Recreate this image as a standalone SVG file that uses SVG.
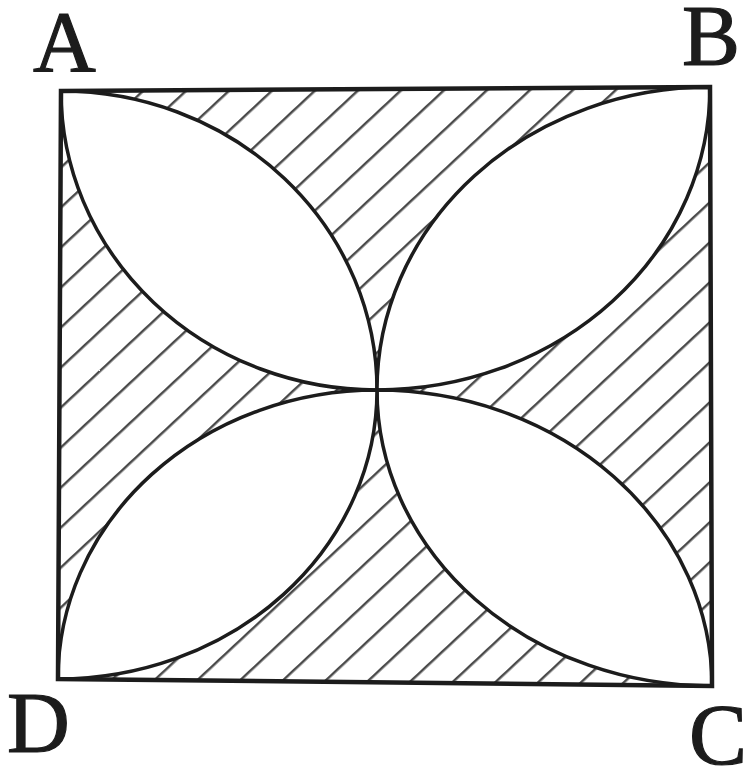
<svg xmlns="http://www.w3.org/2000/svg" width="748" height="767" viewBox="0 0 748 767">
<style>
.lbl{font-family:"Liberation Serif","Times New Roman",serif;font-size:87px;fill:#1c1c1c;stroke:#1c1c1c;stroke-width:1.2;}
.petal{fill:#fff;stroke:#1c1c1c;stroke-width:3.5;stroke-linejoin:round;}
.edge{fill:none;stroke:#1c1c1c;stroke-width:4.5;stroke-linejoin:miter;}
</style>
<defs>
<pattern id="hatch" patternUnits="userSpaceOnUse" width="200" height="29.25" patternTransform="translate(407,683) rotate(-43)">
<line x1="0" y1="0" x2="200" y2="0" stroke="#4a4a4a" stroke-width="5"/>
</pattern>
</defs>
<g id="square-fill">
<polygon points="61,91 710,87 712,686 58,679" fill="url(#hatch)"/>
</g>
<g id="connectors">
<path id="petal-A" class="petal" d="M61,91 A316,299 0 0 0 377,390 A316,299 0 0 0 61,91 Z"/>
<path id="petal-B" class="petal" d="M710,87 A333,303 0 0 0 377,390 A333,303 0 0 0 710,87 Z"/>
<path id="petal-C" class="petal" d="M377,390 A335,296 0 0 0 712,686 A335,296 0 0 0 377,390 Z"/>
<path id="petal-D" class="petal" d="M58,679 A319,289 0 0 0 377,390 A319,289 0 0 0 58,679 Z"/>
<polygon class="edge" points="61,91 710,87 712,686 58,679"/>
</g>
<g id="node-A"><text class="lbl" x="33" y="71">A</text></g>
<g id="node-B"><text class="lbl" x="682" y="65">B</text></g>
<g id="node-C"><text class="lbl" x="689" y="764">C</text></g>
<g id="node-D"><text class="lbl" x="7" y="752">D</text></g>
</svg>
